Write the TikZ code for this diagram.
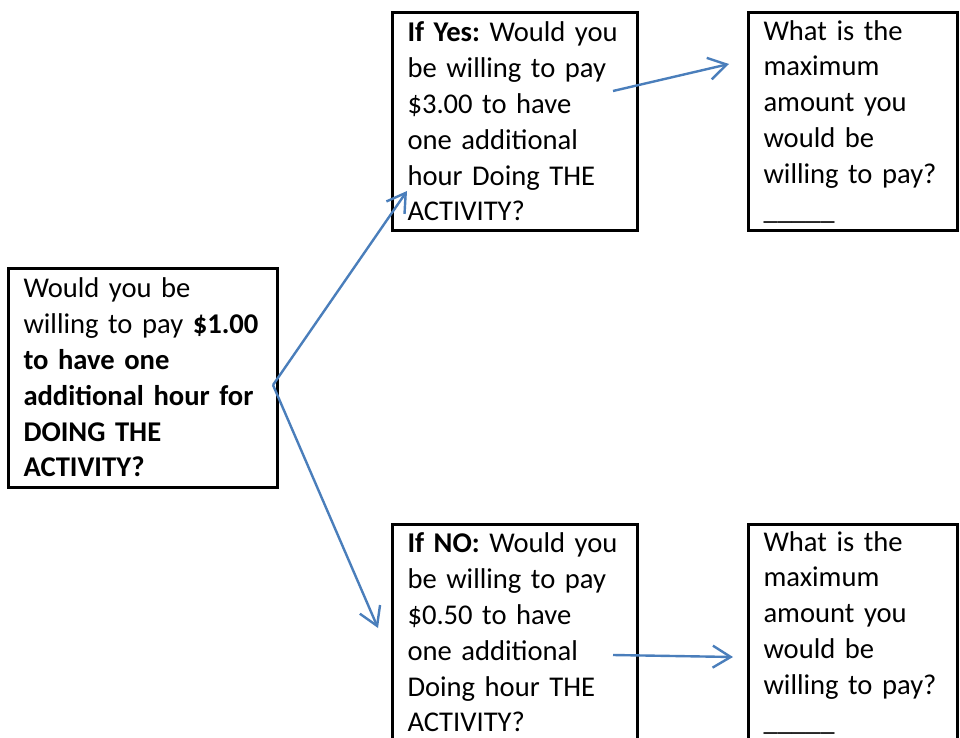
\documentclass[tikz,border=0pt]{standalone}
\usepackage{fontspec}
\setmainfont{Carlito}
\usetikzlibrary{arrows.meta}
\definecolor{arrowblue}{RGB}{74,126,187}
\newcommand{\qline}[1]{\mbox{#1}}
\frenchspacing
\begin{document}
\begin{tikzpicture}[x=1pt,y=-1pt,
  qbox/.style={draw=black, line width=3pt, fill=white, inner xsep=15.5pt, inner ysep=0pt,
    align=left, font=\fontsize{28.6}{35.8}\selectfont\frenchspacing, minimum height=217pt},
  link/.style={draw=arrowblue, line width=2.4pt,
    -{Straight Barb[length=18pt,width=22pt,line width=2.4pt]}}
]
\useasboundingbox (0,0) rectangle (960,738);
\node[qbox, minimum width=269pt, minimum height=219pt, text width=238pt] (start) at (142.5,377.5)
  {\qline{Would you be}\\ \qline{willing to pay \textbf{\$1.00}}\\ \qline{\textbf{to have one}}\\ \qline{\textbf{additional hour for}}\\ \qline{\textbf{DOING THE}}\\ \qline{\textbf{ACTIVITY?}}};
\node[qbox, minimum width=245pt, text width=214pt] (yes) at (514.5,121.5)
  {\qline{\textbf{If Yes:} Would you}\\ \qline{be willing to pay}\\ \qline{\$3.00 to have}\\ \qline{one additional}\\ \qline{hour Doing THE}\\ \qline{ACTIVITY?}};
\node[qbox, minimum width=209pt, text width=178pt] (yesmax) at (852.5,121.5)
  {\qline{What is the}\\ \qline{maximum}\\ \qline{amount you}\\ \qline{would be}\\ \qline{willing to pay?}\\ \qline{\_\_\_\_\_}};
\node[qbox, minimum width=245pt, text width=214pt] (no) at (514.5,632.5)
  {\qline{\textbf{If NO:} Would you}\\ \qline{be willing to pay}\\ \qline{\$0.50 to have}\\ \qline{one additional}\\ \qline{Doing hour THE}\\ \qline{ACTIVITY?}};
\node[qbox, minimum width=209pt, text width=178pt] (nomax) at (852.5,632.5)
  {\qline{What is the}\\ \qline{maximum}\\ \qline{amount you}\\ \qline{would be}\\ \qline{willing to pay?}\\ \qline{\_\_\_\_\_}};
\coordinate (fork) at (273,385);
\coordinate (yestip) at (407,191);
\coordinate (notip) at (378,628);
\coordinate (y1) at (613,91);
\coordinate (y2) at (729,64);
\coordinate (n1) at (613,655);
\coordinate (n2) at (733,657);
\draw[link] (fork) -- (yestip);
\draw[link] (fork) -- (notip);
\draw[link] (y1) -- (y2);
\draw[link] (n1) -- (n2);
\end{tikzpicture}
\end{document}
